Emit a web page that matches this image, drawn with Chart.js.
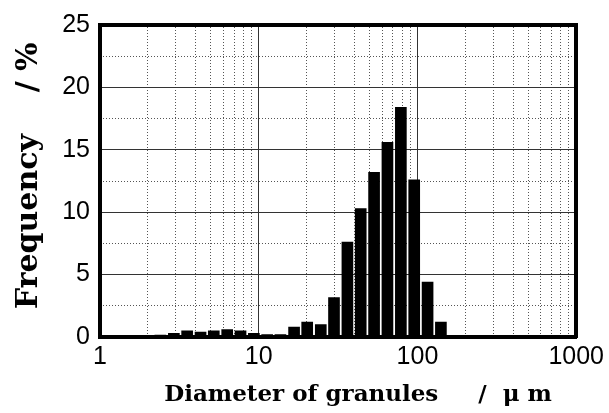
<!DOCTYPE html>
<html>
<head>
<meta charset="utf-8">
<script src="https://cdn.jsdelivr.net/npm/chart.js@4"></script>
<style>
  body { margin: 0; background: #fff; }
  canvas { display: block; }
</style>
</head>
<body>
<canvas id="granules" width="609" height="413"></canvas>
<script>
// bin centres (um) and frequency (%)
var diameters = [2.40, 2.92, 3.54, 4.30, 5.21, 6.33, 7.68, 9.32, 11.3, 13.7, 16.7,
                 20.2, 24.6, 29.8, 36.2, 43.9, 53.3, 64.7, 78.6, 95.4, 115.8, 140.5];
var frequency = [0.15, 0.3, 0.5, 0.4, 0.5, 0.6, 0.5, 0.3, 0.2, 0.2, 0.8,
                 1.2, 1.0, 3.15, 7.6, 10.3, 13.2, 15.6, 18.4, 12.6, 4.4, 1.2];
var xMajorTicks = [1, 10, 100, 1000];
var xMinorTicks = [2, 3, 4, 5, 6, 7, 8, 9, 20, 30, 40, 50, 60, 70, 80, 90, 200, 300, 400, 500, 600, 700, 800, 900];
var yTicks = [0, 5, 10, 15, 20, 25];

var points = [];
for (var i = 0; i < diameters.length; i++) {
  points.push({x: diameters[i], y: frequency[i]});
}

var dotted = "#555";
var solid = "#333";
var tickFont = {family: "'Liberation Sans', Arial, sans-serif", size: 25};
var xTitleFont = {family: "'DejaVu Serif', serif", size: 23, weight: "bold"};
var yTitleFont = {family: "'DejaVu Serif', serif", size: 30, weight: "bold"};

var chart = new Chart(document.getElementById("granules"), {
  type: "bar",
  data: {
    datasets: [{
      data: points,
      backgroundColor: "#000",
      borderWidth: 0,
      barThickness: 11
    }]
  },
  options: {
    responsive: false,
    animation: false,
    layout: {padding: {top: 24, right: 32, left: 0, bottom: 0}},
    plugins: {legend: {display: false}, tooltip: {enabled: false}},
    scales: {
      x: {
        type: "logarithmic",
        position: "bottom",
        min: 1,
        max: 1000,
        offset: false,
        afterBuildTicks: function(scale) {
          scale.ticks = xMajorTicks.map(function(v) { return {value: v}; });
        },
        afterFit: function(scale) { scale.height = 76; },
        grid: {offset: false, color: solid, lineWidth: 1, drawTicks: false},
        border: {display: true, color: "#000", width: 4, z: 1},
        ticks: {
          font: tickFont, color: "#000", padding: 5,
          maxRotation: 0, autoSkip: false,
          callback: function(v) { return String(v); }
        },
        title: {
          display: true,
          text: "     Diameter of granules     /  \u03bc m",
          font: xTitleFont, color: "#000",
          padding: {top: 0, bottom: 4}
        }
      },
      xMinor: {
        type: "logarithmic",
        position: "top",
        min: 1,
        max: 1000,
        offset: false,
        afterBuildTicks: function(scale) {
          scale.ticks = xMinorTicks.map(function(v) { return {value: v}; });
        },
        afterFit: function(scale) { scale.height = 0; },
        grid: {offset: false, color: dotted, lineWidth: 1, drawTicks: false},
        border: {display: true, color: "#000", width: 4, dash: [1, 2], z: 1},
        ticks: {display: false}
      },
      y: {
        type: "linear",
        position: "left",
        min: 0,
        max: 25,
        afterBuildTicks: function(scale) {
          scale.ticks = yTicks.map(function(v) { return {value: v}; });
        },
        afterFit: function(scale) { scale.width = 100; },
        grid: {color: solid, lineWidth: 1, drawTicks: false},
        border: {display: true, color: "#000", width: 4, z: 1},
        ticks: {font: tickFont, color: "#000", padding: 10},
        title: {
          display: true,
          text: " Frequency    / %",
          font: yTitleFont, color: "#000",
          padding: {top: 11, bottom: 0}
        }
      },
      yMinor: {
        type: "linear",
        position: "right",
        min: 0,
        max: 25,
        ticks: {display: false, stepSize: 2.5},
        afterFit: function(scale) { scale.width = 0; },
        grid: {
          drawTicks: false, lineWidth: 1,
          color: function(ctx) {
            return ctx.tick && ctx.tick.value % 5 === 0 ? "rgba(0,0,0,0)" : dotted;
          }
        },
        border: {display: true, color: "#000", width: 4, dash: [1, 2], z: 1}
      }
    }
  }
});
</script>
</body>
</html>
